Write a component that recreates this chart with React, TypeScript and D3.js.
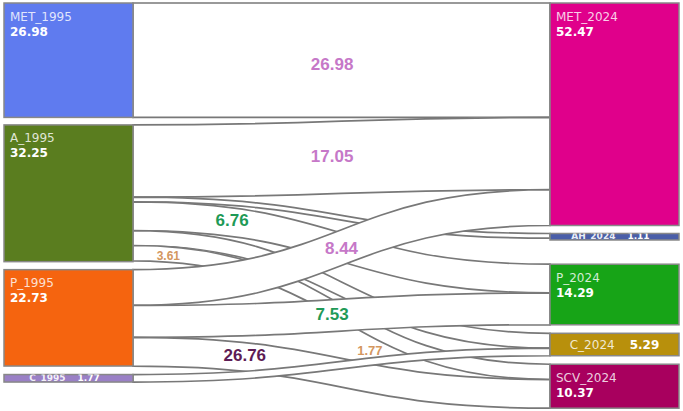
import * as d3 from "d3";

// Nodes, per column
const leftNames = ["MET_1995", "A_1995", "P_1995", "C_1995"];
const leftValues = [26.98, 32.25, 22.73, 1.77];
const rightNames = ["MET_2024", "AH_2024", "P_2024", "C_2024", "SCV_2024"];
const rightValues = [52.47, 1.11, 14.29, 5.29, 10.37];

// Flows (drawn in this order)
const linkSources = ["MET_1995", "A_1995", "A_1995", "A_1995", "A_1995", "A_1995", "P_1995", "P_1995", "P_1995", "C_1995"];
const linkTargets = ["MET_2024", "MET_2024", "AH_2024", "P_2024", "C_2024", "SCV_2024", "MET_2024", "P_2024", "SCV_2024", "C_2024"];
const linkValues = [26.98, 17.05, 1.11, 6.76, 3.52, 3.61, 8.44, 7.53, 6.76, 1.77];
const linkLabels = ["26.98", "17.05", "", "6.76", "", "3.61", "8.44", "7.53", "26.76", "1.77"];

// Styling
const nodeColors: Record<string, string> = {
  MET_1995: "#5f7bef",
  A_1995: "#5a7d1f",
  P_1995: "#f5640f",
  C_1995: "#9a80c6",
  MET_2024: "#e0008b",
  AH_2024: "#4a5ea8",
  P_2024: "#17a417",
  C_2024: "#b8900c",
  SCV_2024: "#a8005e",
};
// label style per link: [t along link, dy, font size, colour]
const labelStyle: Array<[number, number, number, string]> = [
  [0.47, 4, 17, "#c678c8"],
  [0.47, -1.5, 17, "#c678c8"],
  [0.5, 0, 12, "#888"],
  [0.19, -2, 17, "#1f9a57"],
  [0.5, 0, 12, "#888"],
  [0.06, 1, 12, "#d4975f"],
  [0.5, 0, 17, "#c678c8"],
  [0.47, -1.5, 17, "#1f9a57"],
  [0.22, -2, 17, "#5e1c55"],
  [0.59, -11, 13, "#d4975f"],
];

const W = 683;
const H = 411;
const nodeWidth = 129;
const colX = [4, 550];
const top = 3;
const bottom = 408.2;
const leftGaps = [7.5, 8, 8.5];
const rightGaps = [8, 26, 8.5, 8.5];
const minNodeH = 6.5;

type Node = { name: string; value: number; x0: number; x1: number; y0: number; y1: number; col: number; idx: number };
type Link = { i: number; source: Node; target: Node; value: number; sy0: number; sy1: number; ty0: number; ty1: number };

const rightTotal = d3.sum(rightValues);
const ky = d3
  .scaleLinear()
  .domain([0, rightTotal])
  .range([0, bottom - top - d3.sum(rightGaps)]);

function buildColumn(names: string[], values: number[], gaps: number[], col: number): Node[] {
  let y = top;
  return names.map((name, idx) => {
    const y0 = y;
    const y1 = y0 + ky(values[idx]);
    y = y1 + (gaps[idx] ?? 0);
    return { name, value: values[idx], x0: colX[col], x1: colX[col] + nodeWidth, y0, y1, col, idx };
  });
}

const nodes = [...buildColumn(leftNames, leftValues, leftGaps, 0), ...buildColumn(rightNames, rightValues, rightGaps, 1)];
const byName = new Map(nodes.map((n) => [n.name, n]));

const links: Link[] = linkValues.map((value, i) => ({
  i,
  source: byName.get(linkSources[i])!,
  target: byName.get(linkTargets[i])!,
  value,
  sy0: 0,
  sy1: 0,
  ty0: 0,
  ty1: 0,
}));

// stack links at each end, ordered by the node at the other end
nodes.forEach((n) => {
  let y = n.y0;
  links
    .filter((l) => l.source === n)
    .sort((a, b) => a.target.idx - b.target.idx)
    .forEach((l) => {
      l.sy0 = y;
      y += ky(l.value);
      l.sy1 = y;
    });
  y = n.y0;
  links
    .filter((l) => l.target === n)
    .sort((a, b) => a.source.idx - b.source.idx)
    .forEach((l) => {
      l.ty0 = y;
      y += ky(l.value);
      l.ty1 = y;
    });
});

function ribbon(l: Link) {
  const x0 = l.source.x1;
  const x1 = l.target.x0;
  const xm = (x0 + x1) / 2;
  const p = d3.path();
  p.moveTo(x0, l.sy0);
  p.bezierCurveTo(xm, l.sy0, xm, l.ty0, x1, l.ty0);
  p.lineTo(x1, l.ty1);
  p.bezierCurveTo(xm, l.ty1, xm, l.sy1, x0, l.sy1);
  p.closePath();
  return p.toString();
}

function pointAt(l: Link, t: number) {
  const x0 = l.source.x1;
  const x1 = l.target.x0;
  const fx = 1.5 * t * (1 - t) + t * t * t;
  const fy = 3 * t * t - 2 * t * t * t;
  const yc0 = (l.sy0 + l.sy1) / 2;
  const yc1 = (l.ty0 + l.ty1) / 2;
  return [x0 + (x1 - x0) * fx, yc0 + (yc1 - yc0) * fy];
}

const nodeFont = "'DejaVu Sans', Verdana, sans-serif";
const linkFont = "'Liberation Sans', Arial, sans-serif";

function NodeLabel({ n }: { n: Node }) {
  const h = Math.max(n.y1 - n.y0, minNodeH);
  const cx = (n.x0 + n.x1) / 2;
  if (h >= 30) {
    return (
      <g fontFamily={nodeFont} fill="#fff">
        <text x={n.x0 + 6} y={n.y0 + 17.5} fontSize={12} fillOpacity={0.82}>
          {n.name}
        </text>
        <text x={n.x0 + 6} y={n.y0 + 32.5} fontSize={12} fontWeight="bold">
          {d3.format(".2f")(n.value)}
        </text>
      </g>
    );
  }
  if (h >= 15) {
    return (
      <text x={cx} y={n.y0 + h / 2 + 4.5} textAnchor="middle" fontFamily={nodeFont} fontSize={12} fill="#fff">
        <tspan fillOpacity={0.82}>{n.name}</tspan>
        <tspan dx={15} fontWeight="bold">
          {d3.format(".2f")(n.value)}
        </tspan>
      </text>
    );
  }
  return (
    <text
      x={cx - 4}
      y={n.y0 + h - 1}
      textAnchor="middle"
      fontFamily={nodeFont}
      fontSize={9}
      fontWeight="bold"
      fill="#fff"
      clipPath={`url(#clip-${n.name})`}
    >
      <tspan fillOpacity={0.9}>{n.name}</tspan>
      <tspan dx={12}>{d3.format(".2f")(n.value)}</tspan>
    </text>
  );
}

export default function App() {
  return (
    <svg width={W} height={H} style={{ position: "absolute", left: 0, top: 0, background: "#fff" }}>
      <defs>
        {nodes.map((n) => (
          <clipPath key={n.name} id={`clip-${n.name}`}>
            <rect x={n.x0} y={n.y0} width={nodeWidth} height={Math.max(n.y1 - n.y0, minNodeH)} />
          </clipPath>
        ))}
      </defs>
      <g className="links" fill="#fff" stroke="#787878" strokeWidth={1.7}>
        {links.map((l) => (
          <path key={l.i} d={ribbon(l)} />
        ))}
      </g>
      <g className="nodes">
        {nodes.map((n) => (
          <rect
            key={n.name}
            x={n.x0}
            y={n.y0}
            width={nodeWidth}
            height={Math.max(n.y1 - n.y0, minNodeH)}
            fill={nodeColors[n.name]}
            stroke="#888"
            strokeWidth={1.5}
          />
        ))}
      </g>
      <g className="link-labels" fontFamily={linkFont} fontWeight="bold" textAnchor="middle">
        {links
          .filter((l) => linkLabels[l.i])
          .map((l) => {
            const [t, dy, size, color] = labelStyle[l.i];
            const [x, y] = pointAt(l, t);
            return (
              <text key={l.i} x={x} y={y + dy} dy="0.35em" fontSize={size} fill={color}>
                {linkLabels[l.i]}
              </text>
            );
          })}
      </g>
      <g className="node-labels">
        {nodes.map((n) => (
          <NodeLabel key={n.name} n={n} />
        ))}
      </g>
    </svg>
  );
}
